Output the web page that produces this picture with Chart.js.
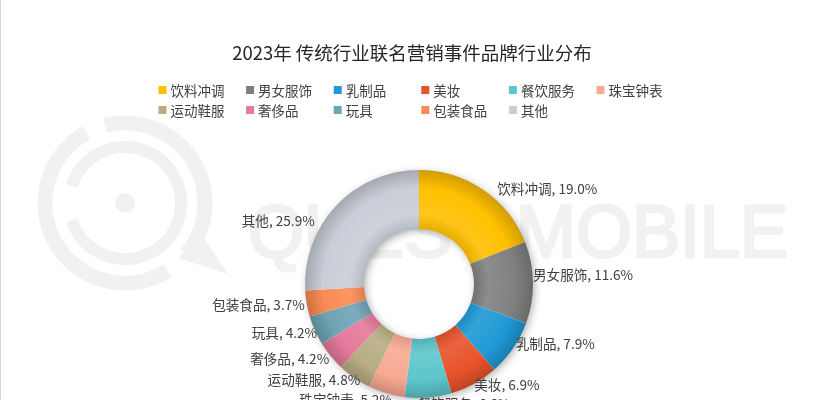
<!DOCTYPE html>
<html>
<head>
<meta charset="utf-8">
<script src="https://cdn.jsdelivr.net/npm/chart.js@4.4.0/dist/chart.umd.min.js"></script>
<style>
html, body { margin: 0; padding: 0; background: #fff; }
#wrap { width: 825px; height: 400px; position: relative; }
</style>
</head>
<body>
<div id="wrap"><canvas id="myChart"></canvas></div>
<script>
var chartTitle = '2023年 传统行业联名营销事件品牌行业分布';
var categories = ['饮料冲调', '男女服饰', '乳制品', '美妆', '餐饮服务', '珠宝钟表', '运动鞋服', '奢侈品', '玩具', '包装食品', '其他'];
var shares = [19.0, 11.6, 7.9, 6.9, 6.6, 5.2, 4.8, 4.2, 4.2, 3.7, 25.9];
var colors = ['#FFC000', '#808080', '#1F9AD6', '#E9532B', '#5CC6CB', '#F8A992', '#B8AE84', '#E47A9B', '#6FA4B5', '#F98B53', '#C8CDD7'];
// small per-label nudges (dx, dy) to sit like the original's data labels
var labelNudge = [[13, 1], [-2, -8], [1, -6], [-1, -1], [-11, 4], [6, 5], [7, 0], [0, 1], [4, 1], [0, 1], [-20, 17]];

var FONT = "'Microsoft YaHei', 'Noto Sans CJK SC', sans-serif";

function shade(hex, f) {
    var n = parseInt(hex.slice(1), 16);
    var rgb = [n >> 16, (n >> 8) & 255, n & 255].map(function (c) {
        return Math.round(f < 0 ? c * (1 + f) : c + (255 - c) * f);
    });
    return 'rgb(' + rgb.join(',') + ')';
}

// faint QuestMobile watermark + left border line
var watermark = {
    id: 'watermark',
    beforeDraw: function (chart) {
        var ctx = chart.ctx;
        ctx.save();
        ctx.fillStyle = '#d6d6d6';
        ctx.fillRect(0, 0, 1, 400);
        ctx.strokeStyle = '#f1f1f1';
        ctx.fillStyle = '#f1f1f1';
        ctx.lineWidth = 15;
        ctx.beginPath();
        ctx.arc(125, 203, 80, Math.PI * 1.42, Math.PI * 2.22);
        ctx.stroke();
        ctx.beginPath();
        ctx.arc(125, 203, 80, Math.PI * 0.32, Math.PI * 1.34);
        ctx.stroke();
        ctx.lineWidth = 12;
        ctx.beginPath();
        ctx.arc(125, 203, 56, Math.PI * 1.1, Math.PI * 2.9);
        ctx.stroke();
        ctx.beginPath();
        ctx.arc(125, 203, 10, 0, Math.PI * 2);
        ctx.fill();
        ctx.beginPath();
        ctx.moveTo(178, 258);
        ctx.lineTo(228, 274);
        ctx.lineTo(200, 232);
        ctx.closePath();
        ctx.fill();
        ctx.font = '74px "Liberation Sans", Arial, sans-serif';
        ctx.textBaseline = 'alphabetic';
        var txt = 'QUEST MOBILE';
        var w = ctx.measureText(txt).width;
        ctx.translate(248, 257);
        ctx.scale(540 / w, 1);
        ctx.lineWidth = 3;
        ctx.lineJoin = 'round';
        ctx.strokeText(txt, 0, 0);
        ctx.fillText(txt, 0, 0);
        ctx.restore();
    }
};

// soft shadow under the ring
var ringShadow = {
    id: 'ringShadow',
    beforeDatasetsDraw: function (chart) {
        var el = chart.getDatasetMeta(0).data[0];
        if (!el) return;
        var p = el.getProps(['x', 'y', 'outerRadius', 'innerRadius'], true);
        var ctx = chart.ctx;
        ctx.save();
        ctx.beginPath();
        ctx.arc(p.x, p.y, p.outerRadius - 1, 0, Math.PI * 2);
        ctx.arc(p.x, p.y, p.innerRadius + 1, 0, Math.PI * 2, true);
        ctx.shadowColor = 'rgba(0,0,0,0.35)';
        ctx.shadowBlur = 8;
        ctx.shadowOffsetX = 2;
        ctx.shadowOffsetY = 2;
        ctx.fillStyle = '#fff';
        ctx.fill();
        ctx.restore();
    }
};

// title, legend and outside data labels
var decorations = {
    id: 'decorations',
    afterDatasetsDraw: function (chart) {
        var ctx = chart.ctx;
        ctx.save();
        ctx.fillStyle = '#262626';
        ctx.font = '18.5px ' + FONT;
        ctx.textAlign = 'center';
        ctx.textBaseline = 'middle';
        ctx.fillText(chartTitle, 412, 53);

        ctx.font = '13.5px ' + FONT;
        ctx.textAlign = 'left';
        categories.forEach(function (name, i) {
            var col = i % 6, row = Math.floor(i / 6);
            var x = 158.5 + col * 87.6, y = 90 + row * 20;
            ctx.fillStyle = colors[i];
            ctx.fillRect(x, y - 4, 8, 8);
            ctx.fillStyle = '#404040';
            ctx.fillText(name, x + 12, y + 1);
        });

        ctx.font = '13.6px ' + FONT;
        ctx.fillStyle = '#404040';
        chart.getDatasetMeta(0).data.forEach(function (arc, i) {
            var p = arc.getProps(['x', 'y', 'startAngle', 'endAngle', 'outerRadius'], true);
            var mid = (p.startAngle + p.endAngle) / 2;
            var ux = Math.cos(mid), uy = Math.sin(mid);
            var r = p.outerRadius + 2;
            var tx = p.x + r * ux + labelNudge[i][0];
            var ty = p.y + r * uy + labelNudge[i][1];
            ctx.textAlign = ux >= 0 ? 'left' : 'right';
            ctx.fillText(categories[i] + ', ' + shares[i].toFixed(1) + '%', tx, ty);
        });
        ctx.restore();
    }
};

var pieCtx = document.getElementById('myChart').getContext('2d');
var myChart = new Chart(pieCtx, {
    type: 'doughnut',
    data: {
        labels: categories,
        datasets: [{
            label: 'share',
            data: shares,
            backgroundColor: function (c) {
                var base = colors[c.dataIndex] || '#ccc';
                var a = c.chart.chartArea;
                if (!a) return base;
                var cx = (a.left + a.right) / 2, cy = (a.top + a.bottom) / 2;
                var g = c.chart.ctx.createRadialGradient(cx, cy, 55, cx, cy, 114);
                g.addColorStop(0, shade(base, -0.1));
                g.addColorStop(0.25, shade(base, 0.1));
                g.addColorStop(0.7, base);
                g.addColorStop(1, shade(base, -0.18));
                return g;
            },
            borderWidth: 0,
            hoverOffset: 0
        }]
    },
    options: {
        responsive: true,
        maintainAspectRatio: false,
        animation: false,
        radius: 114,
        cutout: 55,
        layout: {
            padding: { left: 305, right: 292, top: 170, bottom: 2 }
        },
        plugins: {
            legend: { display: false },
            title: { display: false },
            tooltip: { enabled: false }
        }
    },
    plugins: [watermark, ringShadow, decorations]
});
</script>
</body>
</html>
